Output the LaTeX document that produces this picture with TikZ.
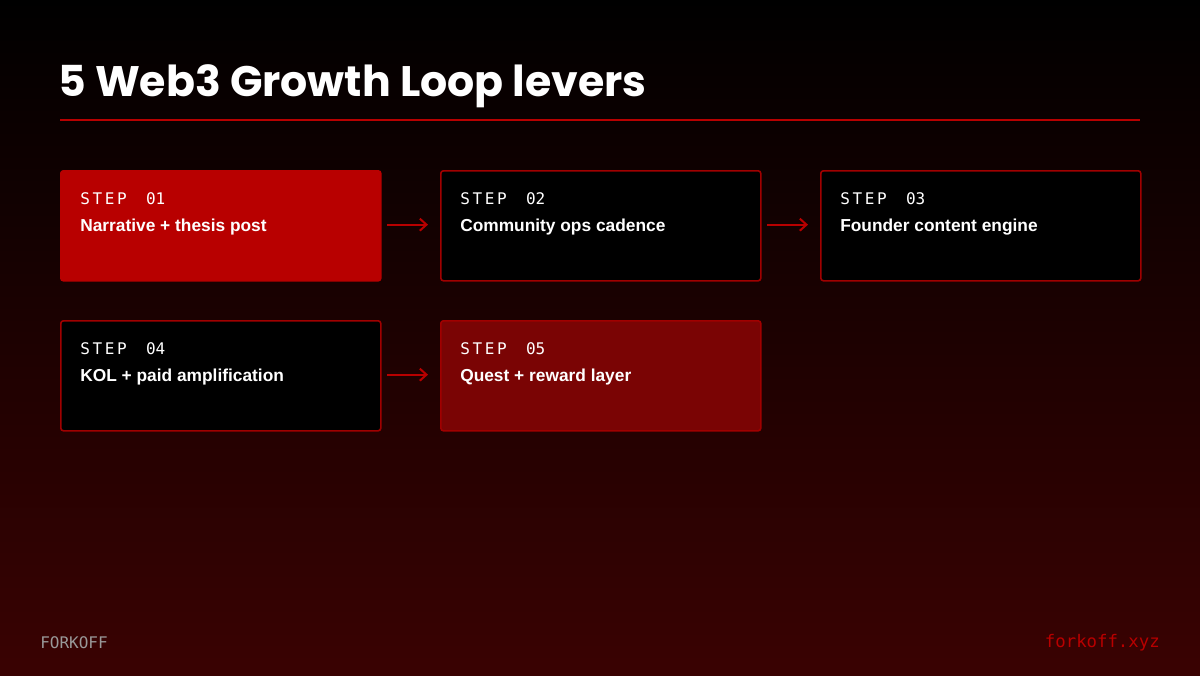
\documentclass[tikz,border=0pt]{standalone}
\usepackage{fontspec}
\setmainfont{Liberation Sans}
\newfontfamily\titlefont{Poppins}
\setmonofont{DejaVu Sans Mono}
\usetikzlibrary{positioning,arrows.meta}
\definecolor{fkred}{HTML}{B80000}
\definecolor{fkdark}{HTML}{7A0404}
\definecolor{fkline}{HTML}{A00000}
\definecolor{fkbot}{HTML}{3A0202}
\tikzset{>={Straight Barb[length=5pt,width=9pt]}}

\begin{document}
\begin{tikzpicture}[x=0.75pt,y=-0.75pt, node distance=45pt,
		stepbox/.style={draw=fkline,line width=1.2pt,rounded corners=2pt,fill=black,minimum width=240pt,minimum height=82.5pt,anchor=north west},
		lbl/.style={anchor=north west,inner sep=0,text=white},
		link/.style={->,draw=fkred,line width=1.5pt}]

		% background
		\shade[top color=black,bottom color=fkbot] (0,0) rectangle (1200,675);
		\useasboundingbox (0,0) rectangle (1200,675);

		% title
		\node[lbl,anchor=west,font=\titlefont\bfseries\fontsize{32}{38}\selectfont] (title) at (58,86) {5 Web3 Growth Loop levers};
		\draw[fkred,line width=2pt] (60,120) -- (1140,120);

		% steps
		\node[stepbox,fill=fkred,draw=fkred] (s1) at (60,170) {};
		\node[stepbox] (s2) at (440,170) {};
		\node[stepbox] (s3) at (820,170) {};
		\node[stepbox] (s4) at (60,320) {};
		\node[stepbox,fill=fkdark] (s5) at (440,320) {};

		\foreach \n/\k/\t in {s1/01/Narrative + thesis post,s2/02/Community ops cadence,s3/03/Founder content engine,s4/04/KOL + paid amplification,s5/05/Quest + reward layer}{
			\node[lbl,font=\ttfamily\fontsize{12}{14}\selectfont] (\n k) at ([xshift=15pt,yshift=-17pt]\n.north west) {S\,T\,E\,P\ \ \k};
			\node[lbl,font=\bfseries\fontsize{13}{15}\selectfont,below=10pt of \n k.south west,anchor=north west] (\n t) {\t};
		}

		% arrows
		\draw[link] ([xshift=4pt,yshift=-41pt]s1.north east) -- ([xshift=-9pt,yshift=-41pt]s2.north west);
		\draw[link] ([xshift=4pt,yshift=-41pt]s2.north east) -- ([xshift=-9pt,yshift=-41pt]s3.north west);
		\draw[link] ([xshift=4pt,yshift=-41pt]s4.north east) -- ([xshift=-9pt,yshift=-41pt]s5.north west);

		% footer
		\node[lbl,anchor=west,text=gray!80,font=\ttfamily\fontsize{12}{14}\selectfont] (brand) at (40,643) {FORKOFF};
		\node[lbl,anchor=east,text=fkred,font=\ttfamily\fontsize{13}{15}\selectfont] (site) at (1160,643) {forkoff.xyz};
\end{tikzpicture}
\end{document}
